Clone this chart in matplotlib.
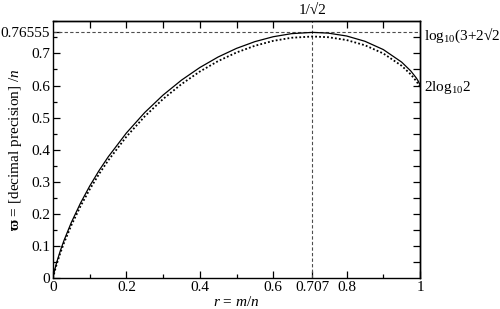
import numpy as np
import matplotlib.pyplot as plt
from matplotlib.ticker import MultipleLocator, FixedLocator

plt.rcParams['font.family'] = 'Liberation Serif'
plt.rcParams['mathtext.fontset'] = 'custom'
plt.rcParams['mathtext.rm'] = 'Liberation Serif'
plt.rcParams['mathtext.it'] = 'Liberation Serif:italic'
plt.rcParams['mathtext.bf'] = 'Liberation Serif:bold'

# DATA
r_vals = [0.0, 0.001, 0.0025, 0.005, 0.01, 0.02, 0.03, 0.05, 0.075, 0.1, 0.125, 0.15,
          0.2, 0.25, 0.3, 0.35, 0.4, 0.45, 0.5, 0.55, 0.6, 0.65, 0.7071, 0.75,
          0.8, 0.85, 0.9, 0.95, 0.975, 0.99, 0.995, 1.0]
upper = [0.0, 0.0069, 0.0152, 0.0274, 0.0487, 0.0853, 0.1174, 0.1735, 0.2338, 0.2867,
         0.3341, 0.3770, 0.4521, 0.5159, 0.5703, 0.6167, 0.6560, 0.6889, 0.7157,
         0.7367, 0.7520, 0.7616, 0.76555, 0.7632, 0.7543, 0.7378, 0.7120, 0.6729,
         0.6452, 0.6234, 0.6142, 0.60206]

r_dots = [0.0, 0.005, 0.01, 0.02, 0.03, 0.05, 0.075, 0.1, 0.125, 0.15, 0.2, 0.25,
          0.3, 0.35, 0.4, 0.45, 0.5, 0.55, 0.6, 0.65, 0.7071, 0.75, 0.8, 0.85,
          0.9, 0.95, 0.975, 0.99, 0.995, 1.0]
lower = [0.0, 0.0230, 0.0430, 0.0784, 0.1096, 0.1646, 0.2241, 0.2764, 0.3234, 0.3659,
         0.4406, 0.5039, 0.5581, 0.6043, 0.6435, 0.6762, 0.7029, 0.7238, 0.7391,
         0.7488, 0.7527, 0.7505, 0.7417, 0.7254, 0.6999, 0.6615, 0.6345, 0.6136,
         0.6052, 0.5951]

r_peak = 0.707
w_peak = 0.76555
w_end = 0.60206

fig = plt.figure(figsize=(5, 3.09), dpi=100)
ax = fig.add_axes([0.106, 0.1, 0.734, 0.831])

ax.axhline(w_peak, color='0.3', lw=0.8, ls=(0, (3, 2)))
ax.axvline(r_peak, color='0.3', lw=0.8, ls=(0, (3, 2)))
ax.plot(r_vals, upper, color='black', lw=0.9)
ax.plot(r_dots, lower, color='black', lw=1.3, ls=(0, (1, 1.2)))

ax.set_xlim(0, 1)
ax.set_ylim(0, 0.8)

fs = 11
# bottom / left ticks
ax.xaxis.set_major_locator(FixedLocator([0, 0.2, 0.4, 0.6, r_peak, 0.8, 1.0]))
ax.set_xticklabels(['0', '0.2', '0.4', '0.6', '0.707', '0.8', '1'])
ax.xaxis.set_minor_locator(FixedLocator([0.1, 0.3, 0.5, 0.9]))
ax.yaxis.set_major_locator(FixedLocator([0, 0.1, 0.2, 0.3, 0.4, 0.5, 0.6, 0.7, w_peak]))
ax.set_yticklabels(['0', '0.1', '0.2', '0.3', '0.4', '0.5', '0.6', '0.7', '0.76555'])
ax.yaxis.set_minor_locator(MultipleLocator(0.05))
ax.tick_params(which='both', direction='in', labelsize=fs, pad=2)
ax.tick_params(which='major', length=5, width=0.9)
ax.tick_params(which='minor', length=3, width=0.9)

# top / right ticks
axt = ax.secondary_xaxis('top')
axt.xaxis.set_major_locator(FixedLocator([r_peak]))
axt.set_xticklabels(['1/√2'])
axt.xaxis.set_minor_locator(FixedLocator([0.1, 0.2, 0.3, 0.4, 0.5, 0.6, 0.8, 0.9]))
axt.tick_params(which='major', length=0, labelsize=fs, pad=3)
axt.tick_params(which='minor', direction='in', length=5, width=0.9)

axr = ax.secondary_yaxis('right')
axr.yaxis.set_major_locator(FixedLocator([w_end, w_peak]))
axr.set_yticklabels([r'2log$_{10}$2', r'log$_{10}$(3+2√2)'])
axr.yaxis.set_minor_locator(FixedLocator([0.05, 0.1, 0.15, 0.2, 0.25, 0.3, 0.35, 0.4, 0.45,
                                          0.5, 0.55, 0.6, 0.65, 0.7, 0.75]))
axr.tick_params(which='major', length=0, labelsize=fs, pad=3)
axr.tick_params(which='minor', direction='in', length=5, width=0.9)

for s in ax.spines.values():
    s.set_linewidth(1.0)
axt.spines['top'].set_linewidth(1.0)
axr.spines['right'].set_linewidth(1.0)

ax.set_xlabel(r'$r$ = $m/n$', fontsize=fs)
ax.xaxis.set_label_coords(0.5, -0.065)
ax.set_ylabel(r'$\mathbf{\varpi}$ = [decimal precision] /$n$', fontsize=fs)
ax.yaxis.set_label_coords(-0.08, 0.5)

fig.savefig('out.png', dpi=100)
